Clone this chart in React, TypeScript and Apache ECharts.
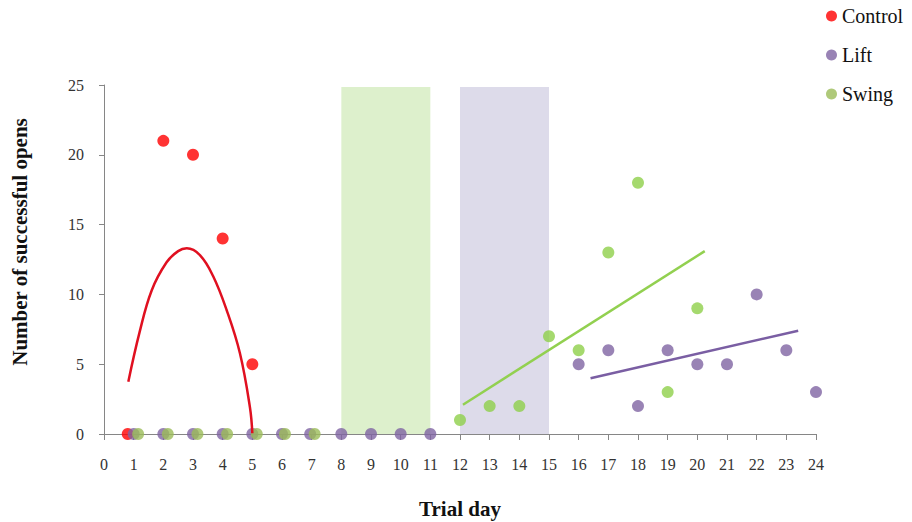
import React, { useEffect, useRef } from "react";
import * as echarts from "echarts";

const xTicks = [0, 24];
const yTicks = [0, 25];

const controlDays = [0.8, 2, 3, 4, 5];
const controlOpens = [0, 21, 20, 14, 5];

const liftDays = [1, 2, 3, 4, 5, 6, 6.95, 8, 9, 10, 11, 16, 17, 18, 19, 20, 21, 22, 23, 24];
const liftOpens = [0, 0, 0, 0, 0, 0, 0, 0, 0, 0, 0, 5, 6, 2, 6, 5, 5, 10, 6, 3];

const swingBaseDays = [1.15, 2.15, 3.15, 4.15, 5.15, 6.1, 7.1];
const swingBaseOpens = [0, 0, 0, 0, 0, 0, 0];

const swingDays = [12, 13, 14, 15, 16, 17, 18, 19, 20];
const swingOpens = [1, 2, 2, 7, 6, 13, 18, 3, 9];

const controlTrendX = [0.82, 1.2, 1.61, 2.11, 2.5, 2.79, 3.24, 3.68, 4.13, 4.58, 4.92, 5.0];
const controlTrendY = [3.75, 7.3, 10.3, 12.3, 13.1, 13.3, 12.8, 11.3, 8.9, 5.8, 1.9, 0.05];

const swingTrendX = [12.1, 20.25];
const swingTrendY = [2.1, 13.1];

const liftTrendX = [16.4, 23.4];
const liftTrendY = [4.0, 7.4];

const swingTrainingDays = [8, 11];
const liftTrainingDays = [12, 15];
const shadeTop = 24.85;

const yTitle = "Number of successful opens";
const xTitle = "Trial day";

const zip = (xs: number[], ys: number[]) => xs.map((x, i) => [x, ys[i]]);

const RED = "#ff0000";
const PURPLE = "#8064a2";
const OLIVE = "#9bbb59";
const GREEN = "#8fcf4a";
const FONT = "Liberation Serif";

export default function App() {
  const ref = useRef<HTMLDivElement>(null);
  useEffect(() => {
    if (!ref.current) return;
    const chart = echarts.init(ref.current, undefined, { renderer: "svg" });
    chart.setOption({
      animation: false,
      backgroundColor: "#ffffff",
      textStyle: { fontFamily: FONT },
      legend: {
        orient: "vertical",
        left: 821,
        top: 1,
        icon: "circle",
        itemWidth: 11,
        itemHeight: 11,
        itemGap: 19,
        data: ["Control", "Lift", "Swing"],
        textStyle: { fontFamily: FONT, fontSize: 20, color: "#111", padding: [0, 0, 0, 0] },
      },
      graphic: [
        {
          type: "text",
          x: 20,
          y: 242,
          rotation: Math.PI / 2,
          style: {
            text: yTitle,
            fontFamily: FONT,
            fontSize: 21,
            fontWeight: "bold",
            fill: "#111",
            align: "center",
            verticalAlign: "middle",
          },
        },
      ],
      grid: { left: 104, right: 96, top: 85, bottom: 88, outerBoundsMode: "none" },
      xAxis: {
        type: "value",
        min: xTicks[0],
        max: xTicks[1],
        interval: 1,
        name: xTitle,
        nameLocation: "middle",
        nameGap: 64,
        nameTextStyle: { fontFamily: FONT, fontSize: 21, fontWeight: "bold", color: "#111" },
        axisLine: { show: true, lineStyle: { color: "#868686", width: 1 } },
        axisTick: { show: true, length: 6, lineStyle: { color: "#868686" } },
        axisLabel: { fontFamily: FONT, fontSize: 16, color: "#333", margin: 22 },
        splitLine: { show: false },
      },
      yAxis: {
        type: "value",
        min: yTicks[0],
        max: yTicks[1],
        interval: 5,
        axisLine: { show: true, lineStyle: { color: "#868686", width: 1 } },
        axisTick: { show: true, length: 5, lineStyle: { color: "#868686" } },
        axisLabel: { fontFamily: FONT, fontSize: 16, color: "#333", margin: 20 },
        splitLine: { show: false },
      },
      series: [
        {
          name: "shade",
          type: "scatter",
          data: [],
          silent: true,
          z: 0,
          markArea: {
            silent: true,
            data: [
              [
                { xAxis: swingTrainingDays[0], yAxis: 0, itemStyle: { color: "#ddf0cc" } },
                { xAxis: swingTrainingDays[1], yAxis: shadeTop },
              ],
              [
                { xAxis: liftTrainingDays[0], yAxis: 0, itemStyle: { color: "#dddbea" } },
                { xAxis: liftTrainingDays[1], yAxis: shadeTop },
              ],
            ],
          },
        },
        {
          name: "Control",
          type: "scatter",
          symbolSize: 12,
          itemStyle: { color: RED },
          data: zip(controlDays, controlOpens),
          z: 3,
        },
        {
          name: "Lift",
          type: "scatter",
          symbolSize: 12,
          itemStyle: { color: PURPLE },
          data: zip(liftDays, liftOpens),
          z: 3,
        },
        {
          name: "Swing",
          type: "scatter",
          symbolSize: 12,
          itemStyle: { color: OLIVE },
          data: zip(swingBaseDays, swingBaseOpens),
          z: 4,
        },
        {
          name: "Swing",
          type: "scatter",
          symbolSize: 12,
          itemStyle: { color: GREEN },
          data: zip(swingDays, swingOpens),
          z: 4,
        },
        {
          name: "Control trend",
          type: "line",
          smooth: 0.4,
          showSymbol: false,
          symbol: "none",
          lineStyle: { color: "#e01020", width: 2.5 },
          data: zip(controlTrendX, controlTrendY),
          z: 5,
        },
        {
          name: "Swing trend",
          type: "line",
          showSymbol: false,
          symbol: "none",
          lineStyle: { color: "#92d050", width: 2.5 },
          data: zip(swingTrendX, swingTrendY),
          z: 5,
        },
        {
          name: "Lift trend",
          type: "line",
          showSymbol: false,
          symbol: "none",
          lineStyle: { color: "#7a5ea3", width: 2.5 },
          data: zip(liftTrendX, liftTrendY),
          z: 5,
        },
      ],
    });
    return () => chart.dispose();
  }, []);
  return (
    <div
      ref={ref}
      style={{ position: "fixed", left: 0, top: 0, width: 912, height: 522 }}
    />
  );
}
